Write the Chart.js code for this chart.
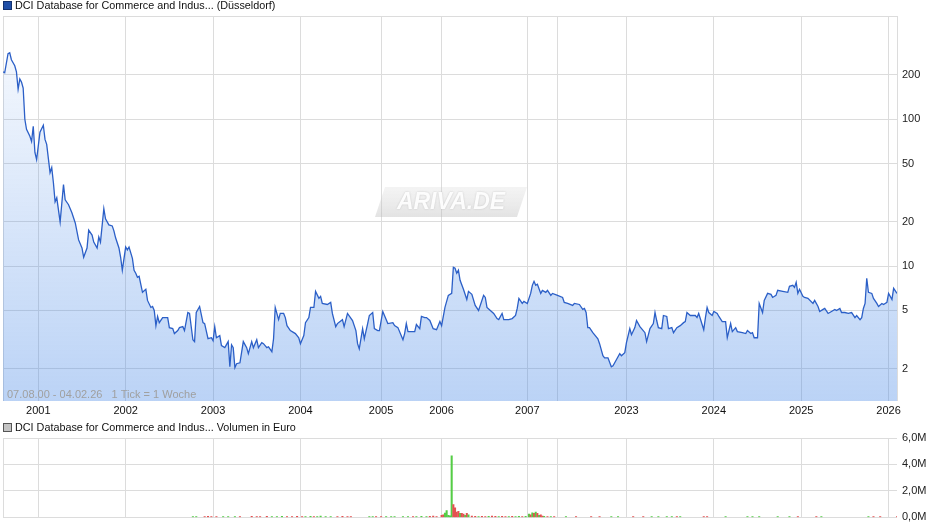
<!DOCTYPE html>
<html>
<head>
<meta charset="utf-8">
<script src="https://cdn.jsdelivr.net/npm/chart.js@4.4.1/dist/chart.umd.min.js"></script>
<style>
    body { margin: 0; background: #fff; }
    #priceWrap { position: absolute; left: 0; top: 0; }
    #volumeWrap { position: absolute; left: 0; top: 418px; }
</style>
</head>
<body>
<div id="priceWrap"><canvas id="priceChart" width="940" height="418"></canvas></div>
<div id="volumeWrap"><canvas id="volumeChart" width="940" height="111"></canvas></div>
<script>
// weekly ticks (1 Tick = 1 Woche), week 0 = 07.08.00
const priceWeeks = [0,1,3,4,5,7,8,9,10,11,12,13,14,16,17,18,19,20,22,24,25,26,28,29,30,31,32,34,36,37,39,41,43,45,47,48,50,51,53,54,56,57,58,60,61,63,65,66,67,69,70,71,73,74,75,77,78,79,80,81,83,85,86,88,89,90,91,92,93,95,98,99,101,102,104,105,107,108,110,111,113,114,115,117,119,120,122,124,125,126,127,129,130,132,134,135,136,137,138,139,141,143,145,146,148,149,151,152,154,155,157,158,160,161,162,164,165,167,168,169,171,174,176,177,179,180,182,183,185,186,188,189,190,193,195,196,198,199,202,203,205,208,210,211,212,214,215,217,218,220,221,223,224,226,227,229,232,233,235,238,239,240,241,243,245,246,248,249,251,252,254,256,258,260,261,263,265,267,268,269,270,271,272,274,276,277,279,281,283,286,287,288,290,292,294,295,297,298,301,303,305,306,307,309,310,312,314,315,316,317,318,320,321,323,324,326,327,330,333,334,336,339,340,343,345,346,347,348,349,351,354,355,357,358,360,362,363,365,367,368,370,371,373,374,376,377,379,380,382,383,385,387,388,389,390,392,393,395,396,398,399,401,403,405,406,407,409,412,413,414,417,418,419,420,422,423,425,426,428,430,431,433,434,436,437,440,442,443,445,446,447,449,450,452,453,455,457,458,460,461,464,467,468,470,471,472,473,474,476,477,479,482,483,485,486,488,489,491,493,495,496,498,499,501,503,505,507,508,510,511,512,513,514,515,517,518,520,521,523,524,526,527,529,530,532];
const prices = [210,207,279,283,254,231,210,160,188,179,163,100,85.4,76.5,70.6,89.6,59.4,53.2,81.5,91,72.9,67.4,43.3,46.9,37.0,27.4,29.2,20.0,35.9,28.3,26.2,23.1,19.7,15.1,13.3,11.5,13.3,17.6,16.3,14.6,13.3,15.8,14.6,24.6,21.0,19.1,18.8,17.4,15.6,13.3,11.5,9.39,13.5,12.9,13.5,11.3,9.39,8.96,8.41,8.54,6.64,6.96,5.85,5.24,5.32,5.00,3.94,4.55,4.13,4.47,4.47,3.82,3.76,3.48,3.65,3.82,3.88,3.65,4.84,4.77,3.16,3.07,4.84,5.32,4.13,4.07,3.21,3.26,3.11,3.88,3.26,3.37,2.88,2.79,3.07,2.07,2.92,2.79,2.04,2.17,2.20,3.07,2.79,2.54,3.07,2.79,3.16,2.79,3.02,2.97,2.79,2.83,2.62,3.21,5.24,4.33,4.77,4.77,4.47,3.94,3.65,3.48,3.26,2.97,3.37,4.13,4.47,5.24,5.24,6.74,6.04,6.23,5.58,5.49,5.67,4.77,3.88,4.07,4.33,3.88,4.77,4.27,3.65,2.97,2.74,3.76,3.21,4.07,4.62,4.84,3.76,3.65,3.65,4.92,4.62,4.07,4.13,3.94,3.82,3.16,3.48,4.07,3.59,3.59,3.59,4.01,3.76,4.55,4.47,4.47,4.27,3.76,3.70,4.20,3.94,5.24,6.33,6.53,9.84,9.69,8.96,9.39,8.02,6.96,5.94,6.74,6.43,5.41,5.00,6.33,6.13,5.24,5.00,4.77,4.40,4.33,4.77,4.33,4.33,4.40,4.62,5.16,6.04,5.58,5.76,5.58,6.53,7.41,7.89,7.41,7.53,6.53,6.85,6.64,6.85,6.33,6.53,6.33,6.13,5.67,5.58,5.41,5.58,5.49,5.08,5.16,4.84,3.82,3.82,3.53,3.21,2.97,2.46,2.38,2.38,2.07,2.10,2.31,2.54,2.46,2.58,3.02,3.76,3.42,3.82,4.27,3.88,3.76,3.53,3.07,3.76,4.07,4.84,4.27,3.82,3.76,4.62,4.55,3.76,3.82,3.53,3.82,3.94,4.13,4.20,4.84,4.62,4.62,4.47,4.77,3.70,4.47,5.24,4.84,4.62,4.92,4.77,4.55,4.20,4.20,3.26,4.07,3.59,3.82,3.59,3.53,3.48,3.65,3.48,3.53,3.26,3.26,5.58,4.84,5.85,6.53,6.43,6.13,6.33,6.85,6.74,6.64,7.30,7.41,7.18,7.77,6.53,6.96,6.23,6.13,6.04,5.58,5.85,5.32,4.92,5.08,5.16,4.77,4.92,5.08,5.00,5.16,4.84,4.84,4.77,4.84,4.47,4.62,4.33,4.47,5.16,5.58,8.28,6.64,6.53,6.04,5.58,5.32,5.58,5.49,5.67,6.53,5.94,7.07,6.53];

// volume in million euro, 1 = up week (green), 0 = down week (red)
const volumeWeeks = [113,115,120,122,124,127,131,134,138,141,148,151,153,157,160,163,166,169,172,175,178,180,183,185,187,189,192,195,199,202,205,207,218,220,222,225,228,231,233,238,241,244,246,249,252,254,256,258,261,262,263,264,265,266,267,268,269,270,271,272,273,274,275,276,277,279,281,283,285,287,289,291,293,295,297,299,301,303,305,307,309,311,313,314,315,316,317,318,319,320,321,322,324,326,328,335,341,350,355,362,366,375,381,386,390,395,398,401,403,417,419,430,443,446,450,461,468,473,484,487,515,518,522,532];
const volumes = [0.07,0.06,0.07,0.08,0.06,0.07,0.06,0.07,0.06,0.07,0.08,0.07,0.06,0.08,0.07,0.06,0.08,0.07,0.06,0.08,0.07,0.06,0.08,0.07,0.06,0.1,0.07,0.06,0.07,0.08,0.06,0.07,0.06,0.07,0.06,0.07,0.06,0.07,0.06,0.07,0.06,0.07,0.07,0.08,0.07,0.08,0.1,0.07,0.15,0.2,0.32,0.52,0.15,0.12,4.65,0.97,0.73,0.4,0.45,0.3,0.3,0.25,0.15,0.3,0.2,0.1,0.08,0.07,0.08,0.07,0.08,0.1,0.08,0.07,0.08,0.07,0.07,0.08,0.07,0.08,0.07,0.08,0.25,0.2,0.35,0.3,0.4,0.3,0.15,0.2,0.1,0.08,0.07,0.07,0.07,0.06,0.06,0.06,0.06,0.06,0.06,0.06,0.06,0.06,0.06,0.06,0.06,0.06,0.06,0.06,0.06,0.06,0.06,0.06,0.06,0.06,0.06,0.06,0.06,0.06,0.06,0.06,0.06,0.06];
const volumeUp = [1,1,0,0,0,0,1,1,1,0,0,0,0,0,1,1,1,0,0,0,0,1,1,0,1,1,1,1,0,0,0,0,1,1,0,0,1,1,1,1,1,0,1,1,1,0,0,0,0,0,1,1,1,1,1,0,0,0,0,1,0,0,1,0,1,0,0,1,0,0,1,0,0,1,0,0,1,0,1,1,0,1,1,0,1,0,1,0,1,0,0,1,0,1,0,1,0,0,0,1,1,0,0,1,1,1,1,0,1,0,0,1,1,1,1,1,1,0,0,1,1,0,0,0];

// x axis: year boundaries (in weeks) and their labels
const yearWeeks = [21,73,125,177,225,261,312,330,371,423,475,527];
const yearLabels = ['2001','2002','2003','2004','2005','2006','2007','','2023','2024','2025','2026'];
const priceTicks = [2,5,10,20,50,100,200];
const volumeTicks = [0,2,4,6];

const FONT = '"Liberation Sans", Arial, sans-serif';
const GRID = '#dcdcdc';

document.addEventListener('DOMContentLoaded', () => {
    Chart.defaults.font.family = FONT;
    Chart.defaults.font.size = 11;
    Chart.defaults.animation = false;

    function frameAndTitle(title, titleY, boxColor, boxBorder, sides) {
        return {
            id: 'frameAndTitle',
            beforeDatasetsDraw(chart) {
                const { ctx, chartArea: a } = chart;
                ctx.save();
                ctx.strokeStyle = GRID;
                ctx.lineWidth = 1;
                ctx.beginPath();
                if (sides.top) { ctx.moveTo(a.left, a.top + 0.5); ctx.lineTo(a.right, a.top + 0.5); }
                if (sides.left) { ctx.moveTo(a.left + 0.5, a.top); ctx.lineTo(a.left + 0.5, a.bottom); }
                if (sides.right) { ctx.moveTo(a.right + 0.5, a.top); ctx.lineTo(a.right + 0.5, a.bottom); }
                ctx.stroke();
                ctx.restore();
            },
            afterDraw(chart) {
                const ctx = chart.ctx;
                ctx.save();
                ctx.fillStyle = boxColor;
                ctx.strokeStyle = boxBorder;
                ctx.fillRect(3.5, titleY - 3.5, 8, 8);
                ctx.strokeRect(3.5, titleY - 3.5, 8, 8);
                ctx.fillStyle = '#111';
                ctx.font = '10.8px ' + FONT;
                ctx.textBaseline = 'middle';
                ctx.fillText(title, 15, titleY + 1);
                ctx.restore();
            }
        };
    }

    const watermark = {
        id: 'watermark',
        beforeDatasetsDraw(chart) {
            const ctx = chart.ctx;
            const cx = 451, cy = 202;
            ctx.save();
            const g = ctx.createLinearGradient(0, cy - 15, 0, cy + 15);
            g.addColorStop(0, 'rgba(210,210,210,0.25)');
            g.addColorStop(1, 'rgba(185,185,185,0.4)');
            ctx.fillStyle = g;
            ctx.beginPath();
            ctx.moveTo(cx - 66, cy - 15);
            ctx.lineTo(cx + 76, cy - 15);
            ctx.lineTo(cx + 66, cy + 15);
            ctx.lineTo(cx - 76, cy + 15);
            ctx.closePath();
            ctx.fill();
            ctx.font = 'italic bold 23px ' + FONT;
            ctx.textAlign = 'center';
            ctx.textBaseline = 'middle';
            ctx.fillStyle = 'rgba(255,255,255,0.95)';
            ctx.shadowColor = 'rgba(150,150,150,0.5)';
            ctx.shadowBlur = 2;
            ctx.fillText('ARIVA.DE', cx, cy + 1);
            ctx.restore();
        },
        afterDatasetsDraw(chart) {
            const ctx = chart.ctx;
            ctx.save();
            ctx.fillStyle = '#a0a0a0';
            ctx.font = '11px ' + FONT;
            ctx.textBaseline = 'middle';
            ctx.fillText('07.08.00 - 04.02.26   1 Tick = 1 Woche', 7, chart.chartArea.bottom - 6);
            ctx.restore();
        }
    };

    function xScale(showLabels, height) {
        return {
            type: 'linear',
            min: 0,
            max: 532,
            offset: false,
            afterBuildTicks: scale => { scale.ticks = yearWeeks.map(w => ({ value: w })); },
            afterFit: scale => { scale.height = height; },
            grid: { color: GRID, drawTicks: false, offset: false },
            border: { display: false },
            ticks: {
                display: showLabels,
                autoSkip: false,
                maxRotation: 0,
                padding: 3,
                color: '#111',
                callback: (value, index) => yearLabels[index]
            }
        };
    }

    function createPriceChart() {
        const ctx = document.getElementById('priceChart').getContext('2d');
        new Chart(ctx, {
            type: 'line',
            data: {
                datasets: [{
                    label: 'DCI Database for Commerce and Indus... (Düsseldorf)',
                    data: priceWeeks.map((w, i) => ({ x: w, y: prices[i] })),
                    borderColor: '#2b5fc7',
                    borderWidth: 1.3,
                    pointRadius: 0,
                    tension: 0,
                    fill: 'start',
                    backgroundColor: context => {
                        const a = context.chart.chartArea;
                        if (!a) return 'rgba(70,135,230,0.2)';
                        const g = context.chart.ctx.createLinearGradient(0, a.top, 0, a.bottom);
                        g.addColorStop(0, 'rgba(70,135,230,0.03)');
                        g.addColorStop(1, 'rgba(70,135,230,0.37)');
                        return g;
                    }
                }]
            },
            options: {
                responsive: false,
                layout: { padding: { top: 16, left: 3, right: 0, bottom: 0 } },
                plugins: { legend: { display: false }, tooltip: { enabled: false } },
                scales: {
                    x: xScale(true, 17),
                    y: {
                        type: 'logarithmic',
                        position: 'right',
                        min: 1.21,
                        max: 504,
                        afterBuildTicks: scale => { scale.ticks = priceTicks.map(v => ({ value: v })); },
                        afterFit: scale => { scale.width = 43; },
                        grid: { color: GRID, drawTicks: false },
                        border: { display: false },
                        ticks: { padding: 5, color: '#222', callback: value => String(value) }
                    }
                }
            },
            plugins: [frameAndTitle('DCI Database for Commerce and Indus... (Düsseldorf)', 5, '#1f4fa8', '#123170', { top: true, left: true, right: true }), watermark]
        });
    }

    function createVolumeChart() {
        const ctx = document.getElementById('volumeChart').getContext('2d');
        new Chart(ctx, {
            type: 'bar',
            data: {
                datasets: [{
                    label: 'Volumen in Euro',
                    data: volumeWeeks.map((w, i) => ({ x: w, y: volumes[i] })),
                    backgroundColor: volumeUp.map(u => u ? 'rgb(85,205,70)' : 'rgb(228,80,80)'),
                    barThickness: 1.4,
                    borderWidth: 0
                }]
            },
            options: {
                responsive: false,
                layout: { padding: { top: 20, left: 3, right: 0, bottom: 0 } },
                plugins: { legend: { display: false }, tooltip: { enabled: false } },
                scales: {
                    x: xScale(false, 6),
                    y: {
                        position: 'right',
                        min: 0,
                        max: 6,
                        afterBuildTicks: scale => { scale.ticks = volumeTicks.map(v => ({ value: v })); },
                        afterFit: scale => { scale.width = 43; },
                        grid: { color: GRID, drawTicks: false },
                        border: { display: false },
                        ticks: { padding: 5, color: '#222', callback: value => value.toFixed(1).replace('.', ',') + 'M' }
                    }
                }
            },
            plugins: [frameAndTitle('DCI Database for Commerce and Indus... Volumen in Euro', 9, '#c4c4c4', '#555', { top: true, left: true, right: false })]
        });
    }

    createPriceChart();
    createVolumeChart();
});
</script>
</body>
</html>
